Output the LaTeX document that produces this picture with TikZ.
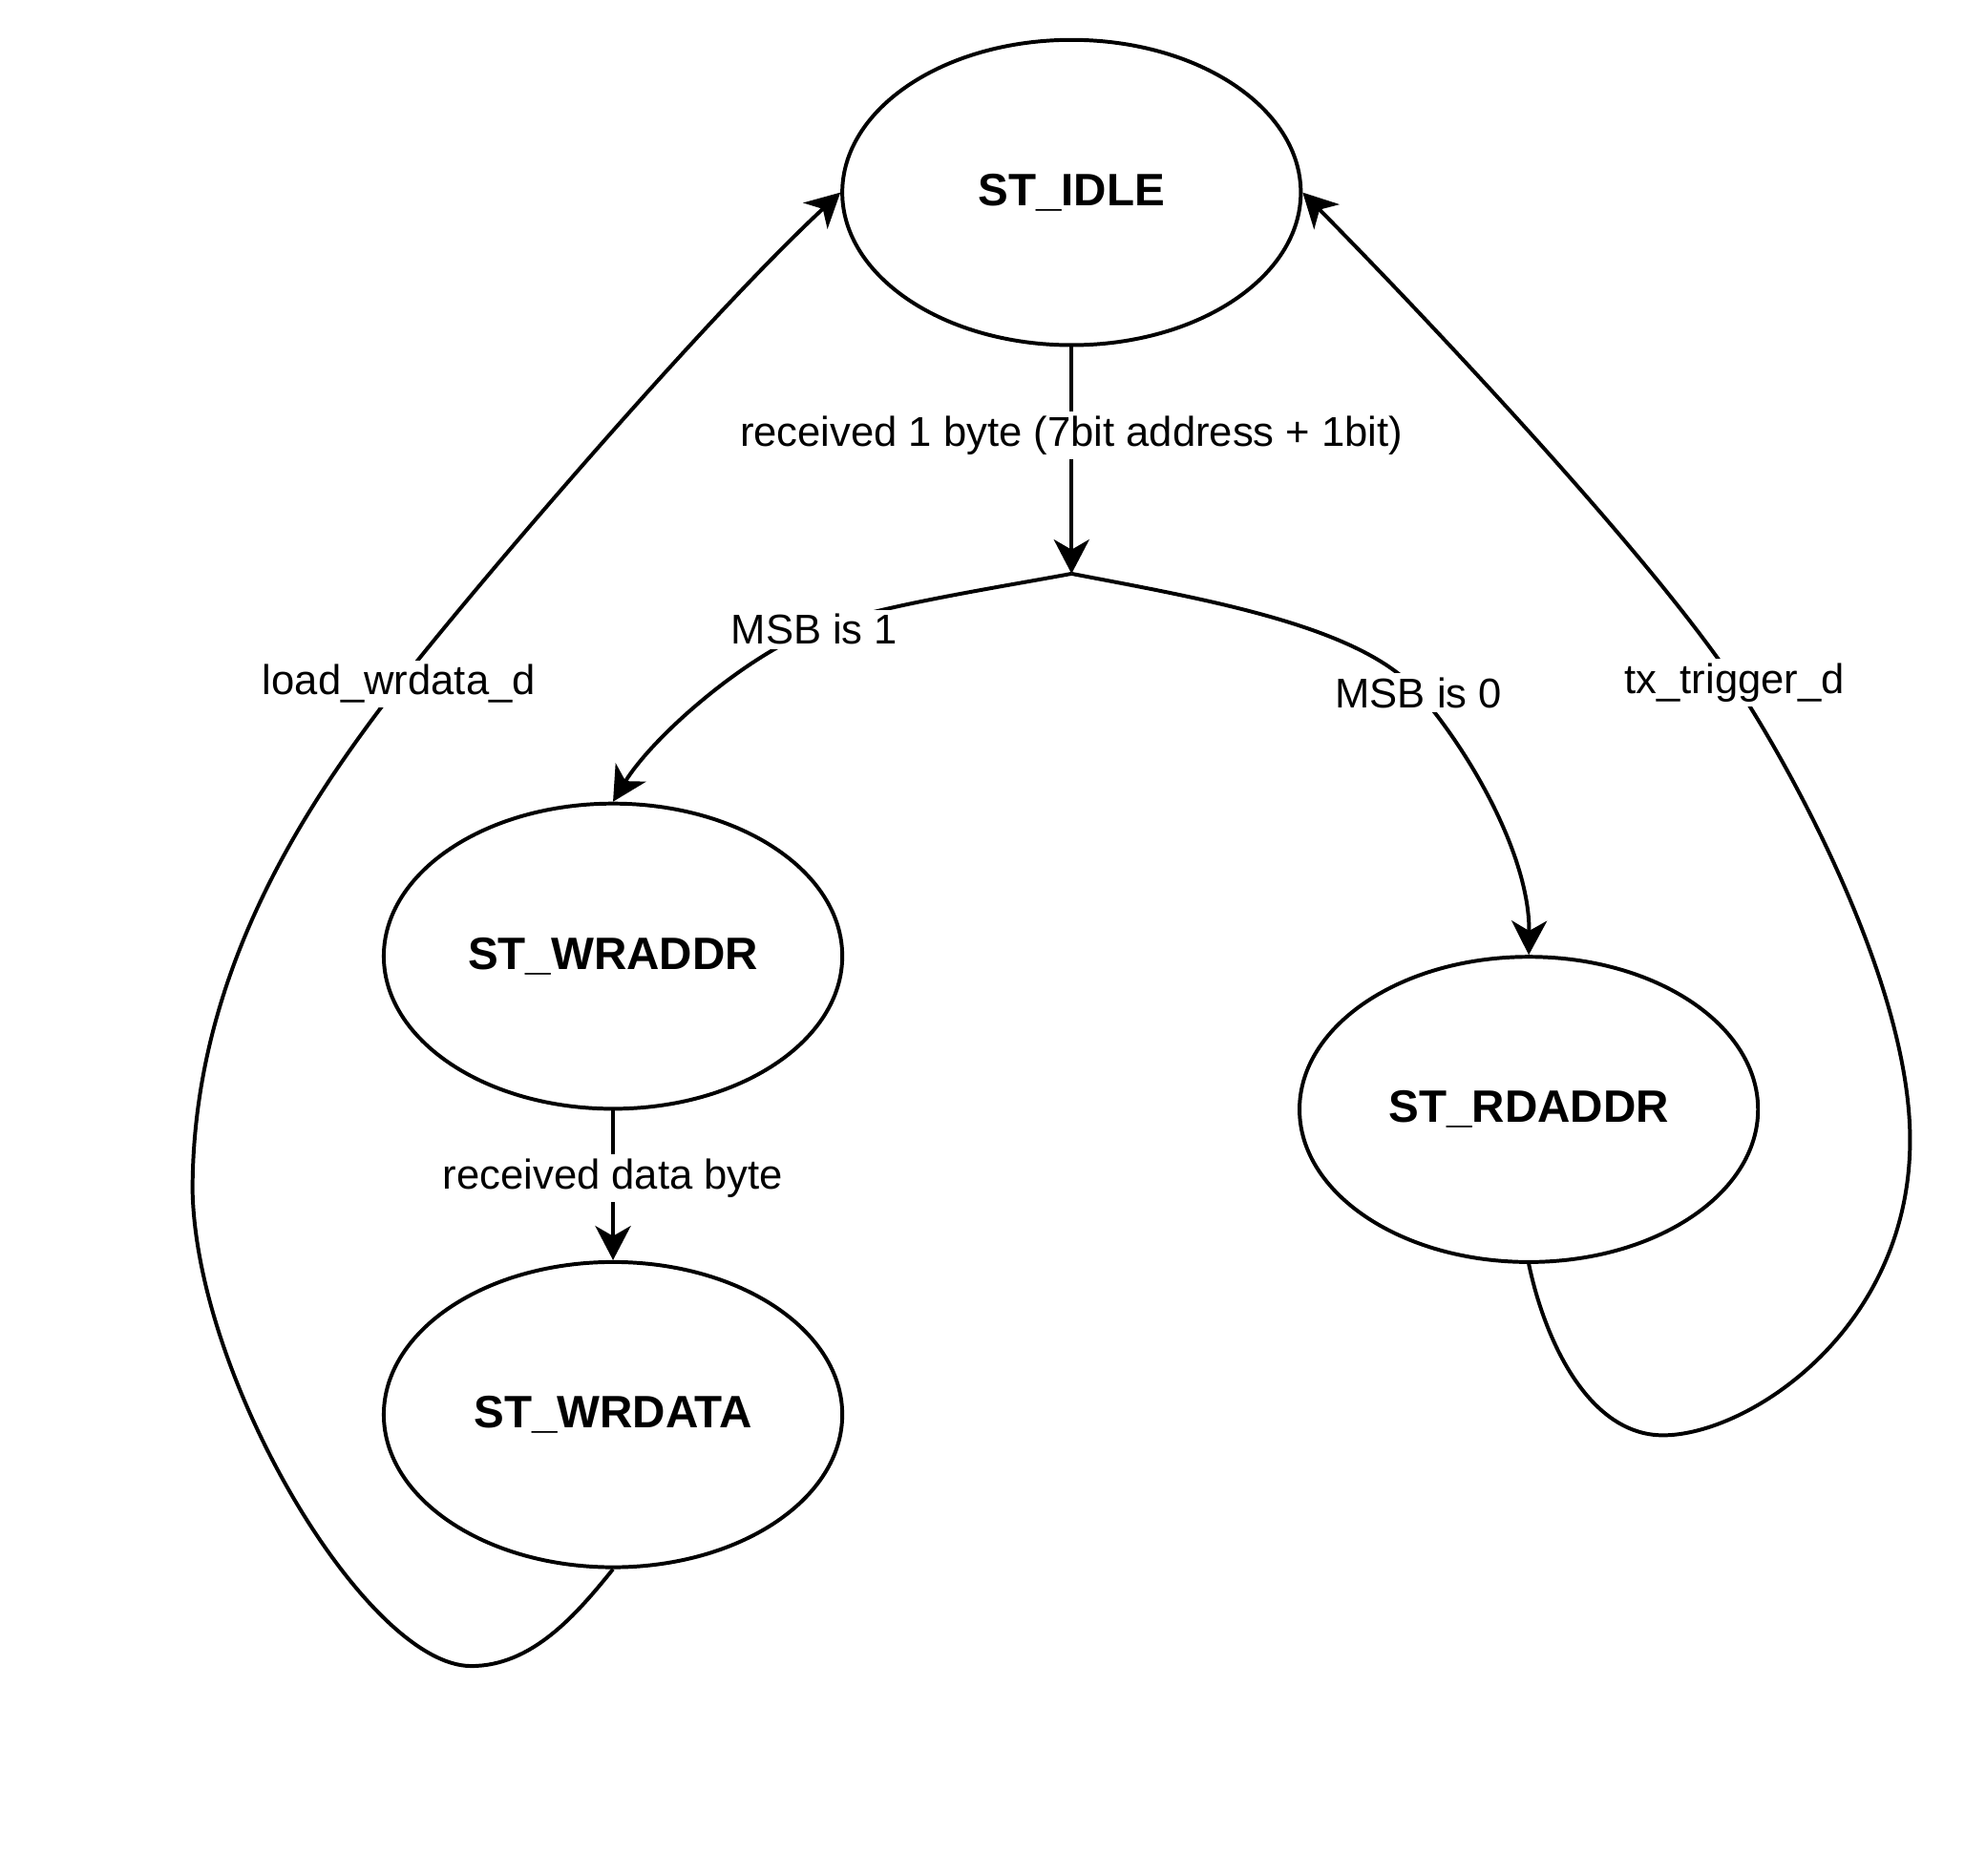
\documentclass[tikz,border=0pt]{standalone}
\usepackage{fontspec}
\setmainfont{Liberation Sans}
\usetikzlibrary{arrows.meta,shapes.geometric}

\begin{document}
\begin{tikzpicture}[x=1cm,y=-1cm,line width=0.85pt,
    st/.style={draw,ellipse,minimum width=3.62cm,minimum height=2.41cm,inner sep=0pt,
      font=\fontsize{10.2}{12}\selectfont\bfseries},
    lbl/.style={fill=white,inner sep=1pt,font=\fontsize{9.35}{11}\selectfont},
    a/.style={-{Stealth[length=2.7mm,width=2.8mm,inset=0.8mm]}}]
  \useasboundingbox (0,0) rectangle (15.68,14.81);
  \node[st] (idle) at (8.46,1.52) {ST\_IDLE};
  \node[st] (wraddr) at (4.84,7.55) {ST\_WRADDR};
  \node[st] (wrdata) at (4.84,11.17) {ST\_WRDATA};
  \node[st] (rdaddr) at (12.07,8.76) {ST\_RDADDR};
  \coordinate (br) at (8.46,4.53);
  % address byte, then split on MSB
  \draw[a] (idle.south) -- node[lbl,pos=0.39] {received 1 byte (7bit address + 1bit)} (br);
  \draw[a] (br) .. controls (7.87,4.64) and (6.9,4.79) .. (6.43,4.97) node[lbl] {MSB is 1}
    .. controls (5.87,5.19) and (5.15,5.82) .. (wraddr.north);
  \draw[a] (br) .. controls (9.5,4.73) and (10.75,4.94) .. (11.2,5.47) node[lbl] {MSB is 0}
    .. controls (11.655,6.0) and (12.08,6.8) .. (rdaddr.north);
  \draw[a] (wraddr.south) -- node[lbl,pos=0.45] {received data byte} (wrdata.north);
  % back to idle
  \draw[a] (wrdata.south) .. controls (4.55,12.75) and (4.2,13.155) .. (3.72,13.155)
    .. controls (2.9,13.155) and (1.55,10.9) .. (1.52,9.4)
    .. controls (1.52,7.6) and (2.5,6.25) .. (3.15,5.40) node[lbl] {load\_wrdata\_d}
    .. controls (3.77,4.61) and (5.54,2.54) .. (idle.west);
  \draw[a] (rdaddr.south) .. controls (12.2,10.6) and (12.55,11.333) .. (13.13,11.333)
    .. controls (13.8,11.333) and (15.08,10.5) .. (15.08,9.0)
    .. controls (15.08,7.8) and (14.19,6.14) .. (13.695,5.39) node[lbl] {tx\_trigger\_d}
    .. controls (13.03,4.39) and (11.32,2.57) .. (idle.east);
\end{tikzpicture}
\end{document}
